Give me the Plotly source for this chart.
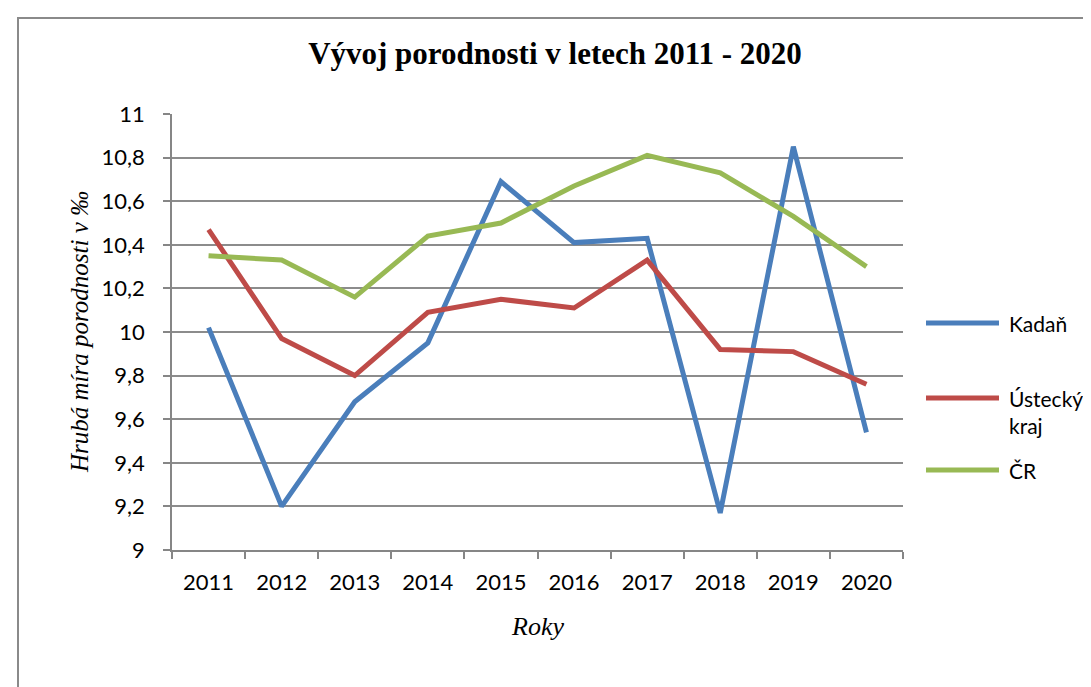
import plotly.graph_objects as go

years = ["2011", "2012", "2013", "2014", "2015", "2016", "2017", "2018", "2019", "2020"]
kadan = [10.02, 9.20, 9.68, 9.95, 10.69, 10.41, 10.43, 9.17, 10.85, 9.54]
ustecky = [10.47, 9.97, 9.80, 10.09, 10.15, 10.11, 10.33, 9.92, 9.91, 9.76]
cr = [10.35, 10.33, 10.16, 10.44, 10.50, 10.67, 10.81, 10.73, 10.53, 10.30]
y_ticks = [9, 9.2, 9.4, 9.6, 9.8, 10, 10.2, 10.4, 10.6, 10.8, 11]
y_tick_text = ["9", "9,2", "9,4", "9,6", "9,8", "10", "10,2", "10,4", "10,6", "10,8", "11"]
series_names = ["Kadaň", "Ústecký kraj", "ČR"]
series_colors = ["#4A7EBB", "#BE4B48", "#98B954"]

OFF = 8  # page body margin
W, H = 1091 - OFF, 687 - OFF
L, T = 172 - OFF, 114 - OFF
R, B = W - (903 - OFF), H - (550 - OFF)
pw, ph = W - L - R, H - T - B

def px(x):
    return (x - OFF - L) / pw

def py(y):
    return (H - B - (y - OFF)) / ph

serif = "Liberation Serif, Times New Roman, serif"
sans = "Lato, Open Sans, sans-serif"

fig = go.Figure()
for name, vals, col in zip(series_names, [kadan, ustecky, cr], series_colors):
    fig.add_trace(go.Scatter(x=years, y=vals, mode="lines", name=name,
                             line=dict(color=col, width=5), showlegend=False))

fig.update_layout(
    width=W, height=H,
    margin=dict(l=L, r=R, t=T, b=B),
    paper_bgcolor="white", plot_bgcolor="white",
    title=dict(text="<b>Vývoj porodnosti v letech 2011 - 2020</b>",
               x=px(555), xanchor="center", xref="paper",
               y=1 - (53 - OFF) / H, yanchor="middle",
               font=dict(family=serif, size=31, color="#000")),
    xaxis=dict(type="category", showgrid=False, showline=True, linecolor="#868686", linewidth=1.5,
               ticks="outside", tickson="boundaries", ticklen=7, tickcolor="#868686", tickwidth=1.5,
               ticklabelstandoff=12,
               tickfont=dict(family=sans, size=22, color="#000"),
               range=[-0.5, 9.5], fixedrange=True),
    yaxis=dict(range=[9, 11], tickvals=y_ticks, ticktext=y_tick_text,
               showgrid=True, gridcolor="#8c8c8c", gridwidth=1.5,
               showline=True, linecolor="#868686", linewidth=1.5,
               ticks="outside", ticklen=7, tickcolor="#868686", tickwidth=1.5,
               ticklabelstandoff=14, zeroline=False,
               tickfont=dict(family=sans, size=22, color="#000")),
)

# axis titles
fig.add_annotation(text="<i>Hrubá míra porodnosti v ‰</i>", xref="paper", yref="paper",
                   x=px(79), y=py(332), textangle=-90, showarrow=False,
                   xanchor="center", yanchor="middle",
                   font=dict(family=serif, size=25, color="#000"))
fig.add_annotation(text="<i>Roky</i>", xref="paper", yref="paper",
                   x=px(537), y=py(626), showarrow=False,
                   xanchor="center", yanchor="middle",
                   font=dict(family=serif, size=26, color="#000"))

# legend (manual)
leg_y = [323, 398, 470]
leg_text = ["Kadaň", "Ústecký<br>kraj", "ČR"]
for yy, txt, col in zip(leg_y, leg_text, series_colors):
    fig.add_shape(type="line", xref="paper", yref="paper",
                  x0=px(926), x1=px(999), y0=py(yy), y1=py(yy),
                  line=dict(color=col, width=5))
    fig.add_annotation(text=txt, xref="paper", yref="paper", x=px(1007), y=py(yy - 14),
                       showarrow=False, xanchor="left", yanchor="top", align="left",
                       font=dict(family=sans, size=21, color="#000"))

fig.add_shape(type="rect", xref="paper", yref="paper",
              x0=px(18), x1=px(1086), y0=py(720), y1=py(18),
              line=dict(color="#8a8a8a", width=2), fillcolor="rgba(0,0,0,0)", layer="below")

fig.write_html("out.html")
